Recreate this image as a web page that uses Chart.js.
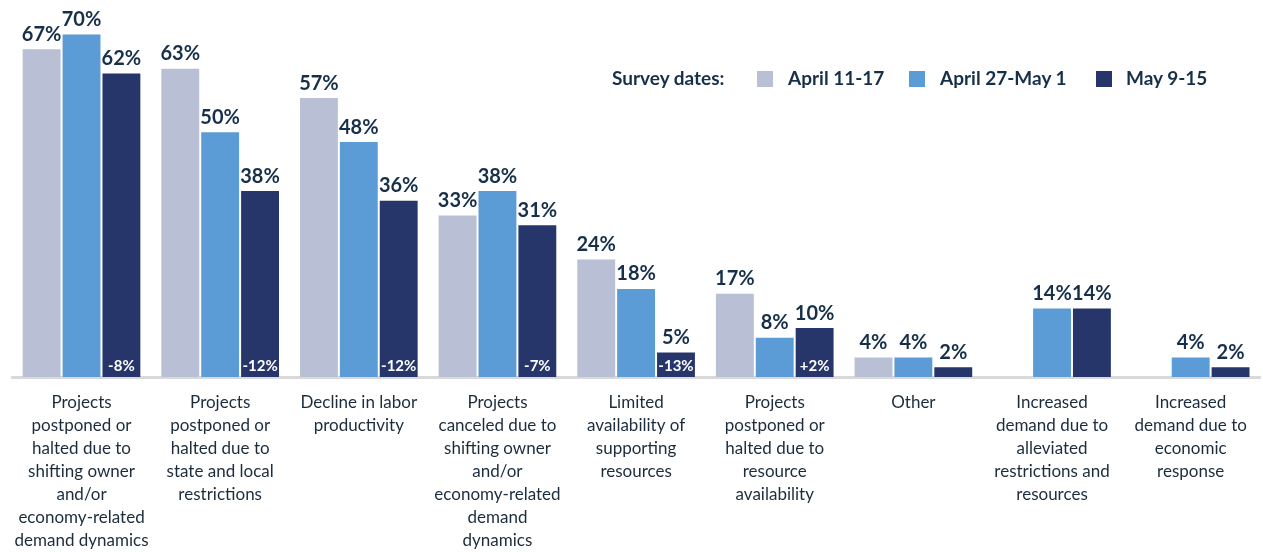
<!DOCTYPE html>
<html>
<head>
<meta charset="utf-8">
<script src="https://cdn.jsdelivr.net/npm/chart.js@4"></script>
<style>
  html, body { margin: 0; padding: 0; background: #ffffff; }
  .wrap { position: relative; width: 1263px; height: 552px; }
  .legend span {
    position: absolute; top: 67px; line-height: 22px;
    font-family: "Lato", "Noto Sans", sans-serif; font-weight: 700;
    font-size: 19px; color: #17304a; white-space: nowrap;
  }
  .legend span.sw { top: 71px; width: 16px; height: 16px; }
</style>
</head>
<body>
<div class="wrap">
  <canvas id="surveyChart" width="1263" height="552"></canvas>
  <div class="legend" id="legend"></div>
</div>
<script>
const categories = [
  ["Projects", "postponed or", "halted due to", "shifting owner", "and/or", "economy-related", "demand dynamics"],
  ["Projects", "postponed or", "halted due to", "state and local", "restrictions"],
  ["Decline in labor", "productivity"],
  ["Projects", "canceled due to", "shifting owner", "and/or", "economy-related", "demand", "dynamics"],
  ["Limited", "availability of", "supporting", "resources"],
  ["Projects", "postponed or", "halted due to", "resource", "availability"],
  ["Other"],
  ["Increased", "demand due to", "alleviated", "restrictions and", "resources"],
  ["Increased", "demand due to", "economic", "response"]
];

const seriesNames = ["April 11-17", "April 27-May 1", "May 9-15"];
const april11to17 = [67, 63, 57, 33, 24, 17, 4, null, null];
const april27toMay1 = [70, 50, 48, 38, 18, 8, 4, 14, 4];
const may9to15 = [62, 38, 36, 31, 5, 10, 2, 14, 2];
const changeLabels = ["-8%", "-12%", "-12%", "-7%", "-13%", "+2%", null, null, null];

const colors = ["#b9bfd4", "#5b9bd6", "#27366a"];
const textColor = "#17304a";
const fontFamily = "\"Lato\", \"Noto Sans\", sans-serif";

// legend is plain html so the "Survey dates:" prefix sits inline
const swatchX = [757, 909, 1096];
const nameX = [788, 940, 1126];
const legendEl = document.getElementById("legend");
legendEl.innerHTML = '<span style="left:612px">Survey dates:</span>' +
  seriesNames.map((name, i) =>
    `<span class="sw" style="left:${swatchX[i]}px;background:${colors[i]}"></span>` +
    `<span style="left:${nameX[i]}px">${name}</span>`
  ).join("");

const barLabels = {
  id: "barLabels",
  afterDatasetsDraw(chart) {
    const ctx = chart.ctx;
    ctx.save();
    ctx.textAlign = "center";
    ctx.textBaseline = "bottom";
    chart.data.datasets.forEach((ds, di) => {
      const meta = chart.getDatasetMeta(di);
      meta.data.forEach((bar, i) => {
        const v = ds.data[i];
        if (v === null) return;
        ctx.fillStyle = textColor;
        ctx.font = `700 20px ${fontFamily}`;
        ctx.fillText(v + "%", bar.x, bar.y - 5);
        if (di === 2 && changeLabels[i]) {
          ctx.fillStyle = "#ffffff";
          ctx.font = `700 15px ${fontFamily}`;
          ctx.fillText(changeLabels[i], bar.x, bar.base - 3);
        }
      });
    });
    ctx.restore();
  }
};

new Chart(document.getElementById("surveyChart"), {
  type: "bar",
  data: {
    labels: categories,
    datasets: [
      { label: seriesNames[0], data: april11to17, backgroundColor: colors[0] },
      { label: seriesNames[1], data: april27toMay1, backgroundColor: colors[1] },
      { label: seriesNames[2], data: may9to15, backgroundColor: colors[2] }
    ]
  },
  options: {
    responsive: false,
    animation: false,
    layout: { padding: { left: 9, right: 3, top: 10, bottom: 0 } },
    datasets: {
      bar: { categoryPercentage: 0.863, barPercentage: 0.95 }
    },
    plugins: {
      legend: { display: false },
      tooltip: { enabled: false }
    },
    scales: {
      x: {
        grid: { display: false, drawTicks: false },
        border: { display: true, color: "#d9d9d9", width: 3 },
        ticks: {
          color: "#1c2c3c",
          autoSkip: false,
          maxRotation: 0,
          padding: 14,
          font: { family: fontFamily, size: 17, lineHeight: 1.35 }
        },
        afterFit(scale) { scale.height = 175; }
      },
      y: {
        display: false,
        min: 0,
        max: 75
      }
    }
  },
  plugins: [barLabels]
});
</script>
</body>
</html>
